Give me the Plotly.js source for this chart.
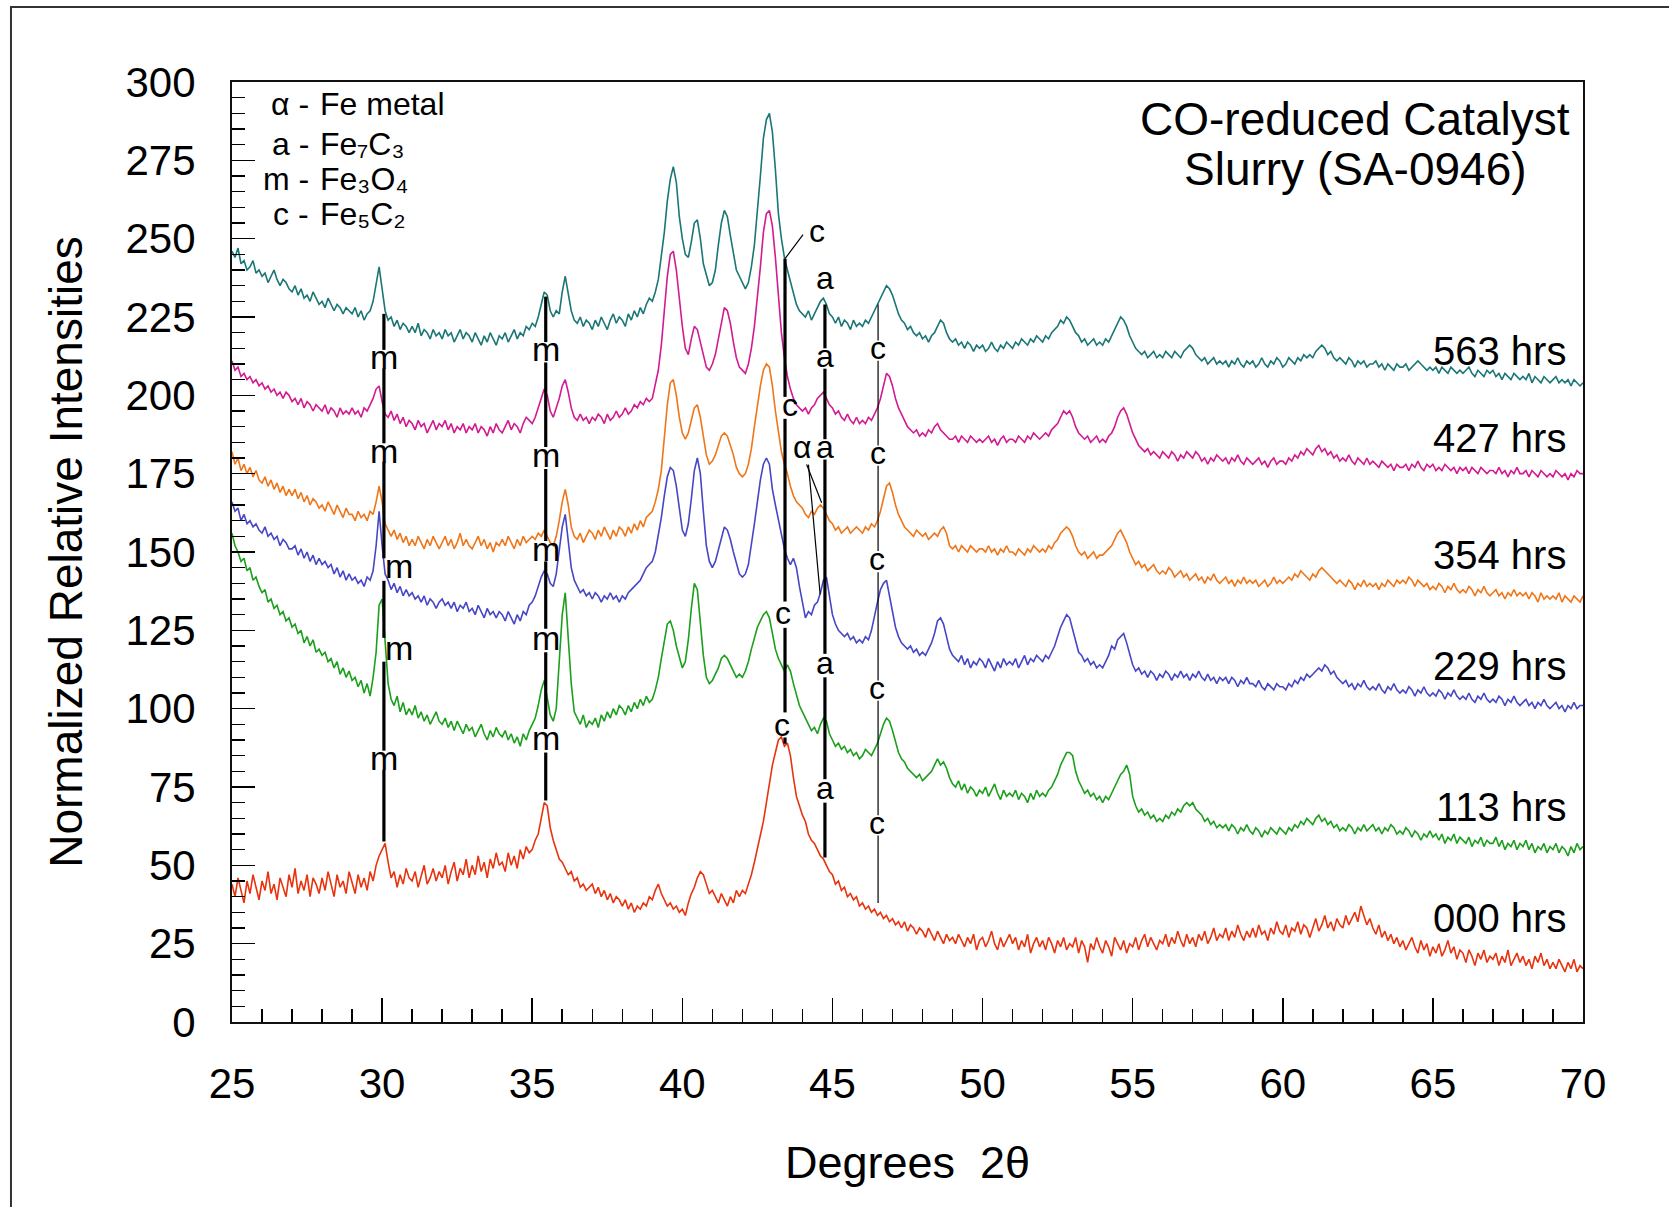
<!DOCTYPE html>
<html>
<head>
<meta charset="utf-8">
<script src="https://cdn.plot.ly/plotly-3.0.1.min.js"></script>
<style>
html,body{margin:0;padding:0;background:#fff;}
#chart{width:1669px;height:1207px;}
</style>
</head>
<body>
<div id="chart"></div>
<script>
// ---- data (2θ from 25.0 to 70.0 in steps of 0.1) ----
const twoThetaStart = 25.0;
const twoThetaStep = 0.1;

const hrs563 = [
246,244,247,242,243,240,241,243,239,240,
238,239,236,238,240,237,235,237,236,234,
233,235,232,234,231,232,230,233,231,229,
230,228,231,229,227,229,228,226,228,227,
226,228,225,227,224,226,227,230,236,241,
234,227,224,225,222,224,221,223,222,220,
222,220,223,219,221,220,218,221,219,220,
218,221,219,220,217,219,221,218,220,219,
217,220,218,216,219,217,220,218,216,219,
218,220,217,219,221,218,220,219,222,221,
223,222,225,229,233,232,227,225,227,226,
233,238,233,227,224,223,225,222,224,223,
221,224,222,225,223,221,224,226,223,225,
224,222,226,224,227,225,228,226,229,231,
230,233,237,244,252,262,269,273,268,257,
250,245,244,249,255,256,250,242,238,235,
236,240,248,255,259,257,251,246,240,238,
236,234,236,241,248,258,270,282,288,290,
284,272,258,250,244,240,236,232,229,227,
226,225,227,224,226,228,230,231,229,226,
225,223,225,222,224,223,221,224,222,223,
222,224,223,225,227,229,231,233,235,234,
232,229,226,224,223,221,222,220,219,220,
218,219,217,219,220,222,224,223,220,218,
217,218,216,217,215,217,216,214,216,215,
216,214,215,217,215,214,216,215,217,216,
215,217,216,218,217,216,218,217,219,218,
217,219,218,220,221,222,224,223,225,224,
222,220,219,217,218,216,217,218,216,217,
216,218,217,219,221,223,225,224,222,219,
217,215,214,213,214,212,213,214,212,213,
212,214,213,212,214,213,212,214,215,216,
215,213,212,211,212,210,211,212,210,211,
210,211,209,211,210,212,210,209,211,210,
211,209,210,212,210,209,211,210,212,211,
209,210,212,211,210,212,211,213,212,213,
212,214,215,216,215,213,214,212,211,212,
211,210,212,211,209,211,210,211,209,210,
210,211,209,210,208,210,209,208,210,209,
209,210,208,209,210,211,210,209,208,209,
208,209,207,209,208,207,209,208,207,208,
207,208,209,207,206,208,207,206,208,207,
208,206,207,205,207,206,205,207,206,205,
206,205,207,204,206,205,204,206,205,204,
205,206,204,205,204,205,203,205,204,203,
204];

const hrs427 = [
211,208,209,206,207,205,206,204,205,203,
204,202,203,201,202,200,201,199,201,200,
198,199,197,199,196,198,197,195,197,196,
195,197,194,196,195,193,196,194,195,194,
196,194,195,193,196,195,197,199,202,203,
198,194,193,195,192,194,191,193,190,192,
191,189,192,190,191,188,190,192,189,191,
190,192,189,191,188,190,189,191,188,190,
189,191,188,190,189,187,190,188,191,189,
188,190,192,189,191,190,188,191,193,192,
191,193,196,199,202,200,195,193,196,199,
203,205,201,196,193,192,194,192,193,191,
193,192,194,193,191,194,192,193,195,193,
194,196,194,195,197,196,198,197,199,198,
199,203,208,216,226,238,245,246,240,230,
222,215,213,218,222,221,217,213,209,208,
210,213,218,224,228,227,223,217,212,209,
208,207,210,215,222,231,241,252,258,259,
254,244,232,220,212,206,202,199,197,196,
195,196,194,196,197,199,200,201,199,197,
196,194,195,193,192,194,192,191,193,191,
192,191,193,192,194,196,199,203,207,206,
203,199,196,194,192,190,189,188,189,187,
188,187,189,188,190,191,189,188,187,186,
186,187,185,187,186,185,187,186,185,186,
185,186,187,185,186,184,186,187,185,186,
186,185,187,186,185,187,186,188,187,186,
187,188,187,189,190,191,193,195,194,195,
193,190,188,187,186,187,185,186,187,185,
186,185,187,188,190,193,195,196,194,191,
188,186,184,183,182,183,181,182,181,180,
182,181,180,182,181,179,181,180,182,181,
180,182,181,179,180,178,180,179,181,180,
179,180,178,180,179,181,179,178,180,179,
178,179,180,178,179,177,179,180,178,179,
179,178,180,179,181,180,182,181,183,182,
181,183,184,182,183,181,182,180,181,179,
180,179,181,179,178,180,179,178,180,178,
179,178,177,179,178,177,178,176,178,177,
177,178,176,178,177,179,177,176,178,177,
178,176,177,176,178,177,176,177,175,177,
176,177,175,177,176,175,177,176,175,176,
176,175,177,175,176,174,176,175,177,175,
175,176,174,176,175,174,176,175,174,175,
174,176,175,174,175,173,175,174,176,175,
175];

const hrs354 = [
182,178,180,176,178,175,177,174,176,173,
172,174,171,173,170,172,169,171,168,170,
168,170,167,169,166,168,165,167,166,164,
165,163,166,164,162,165,163,161,164,162,
162,160,163,161,162,160,163,162,166,171,
166,159,157,155,157,154,156,153,155,152,
154,152,155,153,151,154,152,155,153,151,
153,155,152,154,151,153,156,152,154,152,
151,153,155,152,154,151,153,150,153,152,
154,152,155,153,151,154,152,155,153,154,
155,154,156,155,157,155,153,152,155,160,
166,170,165,158,155,154,156,153,155,157,
156,154,157,155,158,156,154,157,155,158,
157,155,158,156,159,157,160,158,161,162,
163,166,170,176,186,197,204,205,200,193,
188,186,188,192,196,197,193,187,181,178,
179,181,184,187,188,187,184,181,177,175,
174,175,178,183,190,197,203,208,210,209,
203,195,188,182,178,175,171,168,166,165,
164,162,161,163,162,164,165,164,162,160,
159,157,158,156,157,158,156,157,158,157,
156,158,157,159,158,160,163,167,171,172,
169,165,162,160,158,157,156,155,157,156,
155,156,154,155,156,155,157,158,156,152,
151,152,150,152,151,150,152,151,150,151,
151,150,152,150,151,149,151,150,152,150,
150,149,151,150,149,151,150,152,151,150,
151,150,152,151,153,154,156,157,158,157,
155,152,150,149,150,148,149,150,148,149,
149,150,151,152,154,156,157,155,153,150,
148,146,147,145,146,144,145,146,144,143,
144,143,145,144,142,143,144,142,143,141,
142,143,141,142,140,142,141,143,141,140,
141,142,140,141,139,141,140,142,140,141,
140,141,139,140,141,139,140,142,140,141,
140,141,142,141,143,142,144,143,142,141,
143,142,144,145,144,143,142,141,140,141,
140,139,141,140,138,140,139,141,139,140,
139,140,138,140,139,141,140,139,141,140,
141,140,142,141,139,141,140,139,140,138,
139,138,140,139,137,139,138,140,138,137,
138,137,139,138,136,138,137,139,137,136,
137,138,136,137,135,137,136,138,136,137,
136,137,135,137,136,134,137,135,136,135,
136,135,137,134,136,135,134,136,135,134,
136];

const hrs229 = [
166,163,164,160,162,159,160,158,159,157,
156,158,155,156,154,155,152,154,153,151,
151,152,149,151,148,150,147,149,146,148,
146,147,145,146,143,145,142,144,141,143,
141,142,140,141,139,142,141,144,152,163,
152,143,141,138,140,137,139,136,138,136,
137,135,136,134,136,133,135,134,132,134,
135,133,134,132,134,131,133,132,134,131,
132,130,133,131,129,132,130,131,129,131,
130,128,131,129,127,130,128,131,130,133,
134,136,139,142,144,143,140,139,143,150,
158,162,154,145,141,139,137,138,136,137,
135,137,136,134,136,135,137,135,136,134,
136,135,137,138,139,140,141,143,145,146,
147,150,155,161,168,174,177,176,171,163,
157,155,159,167,176,180,175,163,152,147,
145,147,151,155,158,157,154,150,146,143,
142,143,146,152,159,166,173,178,180,178,
170,165,160,155,151,148,146,148,145,139,
134,129,131,130,133,134,137,141,142,136,
130,127,125,124,123,124,122,123,121,122,
121,123,122,125,130,134,138,140,141,136,
130,126,123,121,120,119,120,118,119,117,
118,117,119,121,124,128,129,127,123,119,
117,116,115,117,114,116,113,115,114,116,
115,113,116,114,112,115,113,116,114,115,
114,116,113,115,117,114,116,115,117,116,
115,117,116,118,120,123,126,128,130,129,
125,121,118,117,115,116,114,115,113,114,
113,115,117,120,119,122,123,124,121,117,
114,112,113,111,112,110,112,111,109,111,
110,112,111,109,111,110,112,110,111,109,
111,110,112,110,109,111,109,110,108,110,
109,110,108,110,109,107,109,108,110,108,
108,107,109,107,106,108,107,106,108,107,
107,106,108,107,109,108,110,109,111,110,
111,112,113,112,114,113,111,112,110,109,
108,109,107,108,106,108,107,109,107,106,
107,106,108,106,105,107,106,108,106,105,
106,105,107,106,104,106,105,107,105,104,
105,104,106,105,103,105,104,106,104,103,
104,103,105,103,102,104,103,105,103,102,
103,102,104,103,101,103,102,104,102,101,
102,103,101,102,100,102,101,103,101,100,
101,102,100,101,99,101,100,102,100,101,
101];

const hrs113 = [
156,152,150,147,148,144,145,141,142,139,
137,138,134,135,132,133,130,131,128,129,
126,127,124,125,121,123,120,122,118,119,
117,118,115,116,113,115,111,113,110,112,
109,110,107,109,105,108,104,110,118,133,
135,120,108,103,101,104,99,102,98,100,
98,101,97,99,96,98,95,97,99,96,
95,97,94,96,93,96,94,92,95,93,
94,91,93,95,92,90,93,91,94,92,
91,93,90,92,89,91,88,92,90,93,
95,97,101,106,109,104,98,96,100,115,
130,137,124,108,99,97,95,98,94,96,
95,97,94,98,96,99,97,100,98,101,
100,98,101,99,102,100,103,101,104,102,
103,106,110,116,122,127,128,125,120,116,
113,115,122,132,140,138,128,117,110,108,
109,111,113,116,117,116,114,112,110,111,
110,112,115,119,123,126,128,130,131,129,
124,119,116,114,112,114,112,108,104,101,
99,97,95,93,94,92,95,97,96,92,
90,88,89,87,88,86,87,85,86,84,
85,87,86,85,87,89,92,95,97,96,
93,89,86,84,83,81,80,79,78,79,
77,78,79,80,82,84,82,83,81,78,
76,75,77,74,76,73,75,74,72,74,
73,75,72,74,76,73,71,74,72,73,
72,74,71,73,72,70,73,71,74,72,
73,72,74,75,77,79,82,84,86,86,
85,80,77,75,73,74,72,73,71,72,
70,72,71,73,75,77,79,80,82,79,
72,69,67,68,66,67,65,66,64,65,
64,66,65,67,66,68,67,69,70,69,
70,68,67,66,64,65,63,64,62,63,
62,63,61,63,62,60,62,61,63,61,
60,62,61,59,61,60,62,61,60,62,
61,60,62,61,63,62,64,63,65,64,
63,65,66,64,65,63,64,62,63,61,
62,61,63,62,60,62,61,63,61,62,
63,61,62,60,62,61,63,62,60,61,
60,62,61,59,61,60,58,60,59,61,
59,60,58,60,57,59,58,60,57,59,
58,57,59,56,58,57,59,56,58,57,
57,59,56,58,55,57,56,58,55,57,
56,58,55,57,54,56,55,57,54,56,
55,57,54,56,55,53,56,54,57,55,
56];

const hrs000 = [
44,40,46,42,38,45,41,47,43,39,
45,42,48,41,44,39,46,43,40,47,
43,49,41,45,42,47,40,46,44,41,
46,42,48,44,40,47,43,45,41,48,
44,41,47,43,46,42,48,45,50,53,
55,57,51,46,48,43,47,44,49,46,
45,48,43,47,50,44,46,49,45,48,
46,50,44,48,51,45,49,47,52,46,
50,47,53,48,51,46,52,49,54,50,
51,48,54,50,53,49,55,52,56,54,
55,58,60,65,70,69,62,58,55,52,
51,49,47,48,45,46,43,44,42,43,
44,41,43,40,42,39,41,38,40,39,
37,39,36,38,35,37,36,38,37,40,
39,42,44,41,39,37,38,36,37,35,
36,34,38,41,43,46,48,47,44,41,
42,40,38,41,39,37,40,38,42,40,
42,41,44,47,51,55,59,64,70,76,
82,86,90,91,88,89,85,78,72,69,
66,64,60,58,57,55,53,52,50,48,
47,44,45,42,43,40,41,39,40,37,
38,36,37,35,36,34,35,33,34,32,
33,31,32,30,32,29,31,30,28,30,
29,27,30,28,26,29,27,25,28,26,
27,25,28,26,24,27,25,28,23,26,
27,24,26,29,25,23,27,24,26,28,
25,27,23,26,24,28,22,25,27,24,
26,23,27,25,22,26,24,27,23,25,
24,27,22,26,24,19,25,23,27,24,
22,26,24,21,27,25,23,26,22,25,
24,27,23,26,28,24,27,25,23,26,
25,28,24,27,25,29,26,24,28,25,
27,24,28,26,29,25,27,30,26,28,
27,30,26,29,27,31,28,26,29,27,
30,27,31,28,29,26,30,28,32,29,
28,31,27,30,29,32,28,31,30,27,
30,33,29,31,34,30,32,29,33,31,
30,34,31,33,35,32,37,34,31,33,
30,28,31,27,29,26,28,25,27,24,
26,23,25,27,24,22,26,23,25,21,
24,22,25,21,23,26,22,24,20,23,
22,19,23,21,18,22,20,23,19,21,
20,22,18,21,19,23,18,20,22,19,
21,18,20,17,21,19,22,18,20,17,
19,17,20,18,16,19,17,20,16,18,
17];

const seriesNames  = ['563 hrs','427 hrs','354 hrs','229 hrs','113 hrs','000 hrs'];
const seriesValues = [hrs563, hrs427, hrs354, hrs229, hrs113, hrs000];
const seriesLabelY = [214.3, 186.5, 149.2, 113.6, 68.5, 33.3];

// phase identification marker lines: x position and vertical segments
const markerX    = [30.06, 35.45, 43.42, 44.75, 46.52];
const markerSegs = [
  [[226,214.5],[208.6,184.7],[178.8,148],[140.8,122.6],[115,86.6],[80.5,57.6]],
  [[231.5,217],[210.5,183.5],[176.5,153.5],[147,125.5],[118,93.5],[86,70.7]],
  [[243.6,199.5],[192.5,134.2],[125.8,98.8],[90.8,88.8]],
  [[229,215],[208.5,186],[179.5,117.5],[110,77.5],[70,52.5]],
  [[229,217.5],[211,184],[177.5,150.3],[143.5,109],[102.5,66],[59.5,38]]
];
const markerThin = [false,false,false,false,true];
const leaderLines = [[43.42,243.6,44.02,251.3],[44.14,177.9,44.64,165.7],[44.2,177.9,44.59,136.5]];
const peakLabels = [
  [30.06,211.5,'m'],[30.06,181.5,'m'],[30.55,144.6,'m'],[30.55,118.5,'m'],[30.06,83.4,'m'],
  [35.45,214,'m'],[35.45,180,'m'],[35.45,150.3,'m'],[35.45,121.7,'m'],[35.45,89.8,'m'],
  [44.49,251.5,'c'],[43.6,196,'c'],[43.36,129.6,'c'],[43.32,94,'c'],
  [44.75,236.5,'a'],[44.75,211.8,'a'],[44.75,182.8,'a'],[44.75,113.7,'a'],[44.75,73.9,'a'],
  [43.99,182.8,'α'],
  [46.52,214.2,'c'],[46.52,180.8,'c'],[46.5,147,'c'],[46.5,105.7,'c'],[46.5,62.7,'c']
];

// phase key
const keySymbols  = ['α -','a -','m -','c -'];
const keyFormulas = ['Fe metal','Fe₇C₃','Fe₃O₄','Fe₅C₂'];
const keyY = [292.9, 280.2, 269.1, 257.9];

const titleLines = ['CO-reduced Catalyst','Slurry (SA-0946)'];
const titleY = [288.2, 272.3];

// ---- styling ----
const FONT = 'Liberation Sans, Arial, Helvetica, DejaVu Sans, sans-serif';
const colors = ['#1b7676','#d21a92','#ef7619','#4646c6','#1c9f1c','#e8340e'];

const traces = seriesValues.map((v,i)=>({
  type:'scatter', mode:'lines', name: seriesNames[i],
  x0: twoThetaStart, dx: twoThetaStep, y: v,
  line:{color:colors[i], width:1.6},
  showlegend:false, hoverinfo:'skip'
}));

const shapes = [];
markerX.forEach((x,i)=>{
  markerSegs[i].forEach(s=>{
    shapes.push({type:'line', xref:'x', yref:'y', x0:x, x1:x, y0:s[0], y1:s[1],
      line:{color:'#000', width: markerThin[i] ? 1.2 : 3.2}});
  });
});
leaderLines.forEach(l=>{
  shapes.push({type:'line', xref:'x', yref:'y', x0:l[0], y0:l[1], x1:l[2], y1:l[3],
    line:{color:'#000', width:1.2}});
});
// outer frame of the figure
shapes.push({type:'rect', xref:'paper', yref:'paper', x0:-0.1636, x1:1.2, y0:-0.4, y1:1.0798,
  line:{color:'#333', width:2}, fillcolor:'rgba(0,0,0,0)', layer:'below'});

const annotations = [];
peakLabels.forEach(p=>{
  const isM = p[2]==='m';
  annotations.push({x:p[0], y:p[1]+0.8, xref:'x', yref:'y', text:p[2], showarrow:false,
    xanchor:'center', yanchor:'middle', font:{family:FONT, size: isM ? 34 : 32, color:'#000'}});
});
seriesNames.forEach((n,i)=>{
  annotations.push({x:69.5, y:seriesLabelY[i], xref:'x', yref:'y', text:n, showarrow:false,
    xanchor:'right', yanchor:'middle', font:{family:FONT, size:40, color:'#000'}});
});
keySymbols.forEach((s,i)=>{
  annotations.push({x:27.63, y:keyY[i], xref:'x', yref:'y', text:s, showarrow:false,
    xanchor:'right', yanchor:'middle', font:{family:FONT, size:32, color:'#000'}});
  annotations.push({x:27.865, y:keyY[i], xref:'x', yref:'y', text:keyFormulas[i], showarrow:false,
    xanchor:'left', yanchor:'middle', font:{family:FONT, size:32, color:'#000'}});
});
titleLines.forEach((t,i)=>{
  annotations.push({x:62.41, y:titleY[i], xref:'x', yref:'y', text:t, showarrow:false,
    xanchor:'center', yanchor:'middle', font:{family:FONT, size:46, color:'#000'}});
});

const layout = {
  width:1669, height:1207,
  margin:{l:232, r:86, t:82, b:185},
  paper_bgcolor:'#fff', plot_bgcolor:'#fff',
  font:{family:FONT, color:'#000'},
  showlegend:false,
  xaxis:{
    range:[25,70], tick0:25, dtick:5, ticks:'inside', ticklen:24, tickwidth:1.5, tickcolor:'#000',
    minor:{dtick:1, ticks:'inside', ticklen:13, tickwidth:1.5, tickcolor:'#000', showgrid:false},
    showline:true, linecolor:'#111', linewidth:2, mirror:true,
    showgrid:false, zeroline:false,
    tickfont:{family:FONT, size:42, color:'#000'},
    ticklabelstandoff:24,
    title:{text:'Degrees\u00a0 2θ', font:{family:FONT, size:45, color:'#000'}, standoff:40}
  },
  yaxis:{
    range:[0,300], tick0:0, dtick:25, ticks:'inside', ticklen:23, tickwidth:1.5, tickcolor:'#000',
    minor:{dtick:5, ticks:'inside', ticklen:13, tickwidth:1.5, tickcolor:'#000', showgrid:false},
    showline:true, linecolor:'#111', linewidth:2, mirror:true,
    showgrid:false, zeroline:false,
    tickfont:{family:FONT, size:42, color:'#000'},
    ticklabelstandoff:26,
    title:{text:'Normalized Relative Intensities', font:{family:FONT, size:46, color:'#000'}, standoff:28}
  },
  shapes: shapes,
  annotations: annotations
};

Plotly.newPlot('chart', traces, layout, {staticPlot:true, displayModeBar:false});
</script>
</body>
</html>
